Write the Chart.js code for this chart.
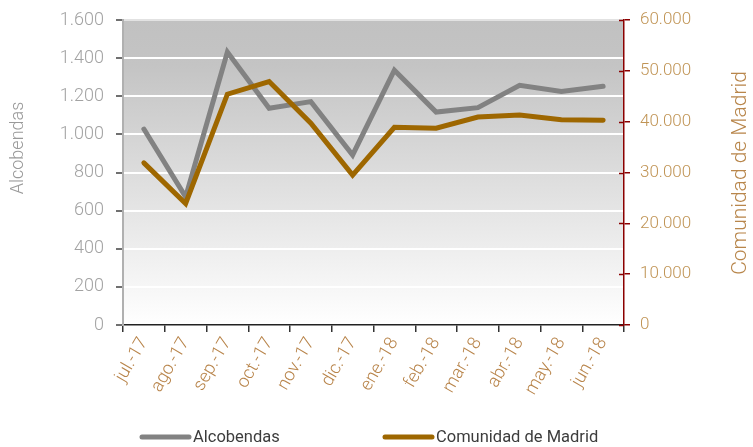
<!DOCTYPE html>
<html>
<head>
<meta charset="utf-8">
<script src="https://cdn.jsdelivr.net/npm/chart.js@4.4.1/dist/chart.umd.min.js"></script>
<style>
    html, body { margin: 0; padding: 0; background: #ffffff; }
    #wrap { width: 753px; height: 447px; position: relative; }
</style>
</head>
<body>
<div id="wrap"><canvas id="chart"></canvas></div>
<script>
// data
var months = ['jul.-17', 'ago.-17', 'sep.-17', 'oct.-17', 'nov.-17', 'dic.-17',
    'ene.-18', 'feb.-18', 'mar.-18', 'abr.-18', 'may.-18', 'jun.-18']
var alcobendas = [1028, 672, 1432, 1137, 1172, 892, 1337, 1117, 1140, 1257, 1225, 1252]
var madrid = [31900, 23900, 45400, 47900, 39700, 29500, 38900, 38700, 40900, 41300, 40400, 40300]

var leftTicks = [0, 200, 400, 600, 800, 1000, 1200, 1400, 1600]
var rightTicks = [0, 10000, 20000, 30000, 40000, 50000, 60000]

var grayLine = '#828282'
var brownLine = '#9e6700'
var font = 'Roboto'

// 1600 -> "1.600"
function fmt(v) {
    return String(v).replace(/\B(?=(\d{3})+(?!\d))/g, '.')
}

//background gradient, axis titles, inner ticks of right axis and legend
var decorPlugin = {
    id: 'decor',
    beforeDraw(chart) {
        var ctx = chart.ctx
        var a = chart.chartArea
        var g = ctx.createLinearGradient(0, a.top, 0, a.bottom)
        g.addColorStop(0, '#c1c1c1')
        g.addColorStop(0.15, '#c4c4c4')
        g.addColorStop(1, '#ffffff')
        ctx.save()
        ctx.fillStyle = g
        ctx.fillRect(a.left, a.top, a.right - a.left, a.bottom - a.top)
        ctx.restore()
    },
    afterDraw(chart) {
        var ctx = chart.ctx
        var a = chart.chartArea
        var yR = chart.scales.yR

        ctx.save()
        // right axis ticks also go into the plot
        ctx.strokeStyle = '#8b0000'
        ctx.lineWidth = 1.5
        rightTicks.forEach(t => {
            var py = Math.round(yR.getPixelForValue(t)) + 0.5
            ctx.beginPath()
            ctx.moveTo(a.right - 5, py)
            ctx.lineTo(a.right, py)
            ctx.stroke()
        })

        // axis titles
        ctx.textAlign = 'center'
        ctx.textBaseline = 'middle'
        ctx.font = '300 18px ' + font
        ctx.fillStyle = '#9a9a9a'
        ctx.translate(18, 148)
        ctx.rotate(-Math.PI / 2)
        ctx.fillText('Alcobendas', 0, 0)
        ctx.restore()

        ctx.save()
        ctx.textAlign = 'center'
        ctx.textBaseline = 'middle'
        ctx.font = '300 21px ' + font
        ctx.fillStyle = '#b8864b'
        ctx.translate(741, 173)
        ctx.rotate(-Math.PI / 2)
        ctx.fillText('Comunidad de Madrid', 0, 0)
        ctx.restore()

        // legend
        var items = [
            { text: 'Alcobendas', color: grayLine, x: 142 },
            { text: 'Comunidad de Madrid', color: brownLine, x: 385 }
        ]
        ctx.save()
        ctx.lineCap = 'round'
        ctx.lineWidth = 5
        ctx.font = '16.5px ' + font
        ctx.textBaseline = 'middle'
        ctx.fillStyle = '#3c3c3c'
        items.forEach(it => {
            ctx.strokeStyle = it.color
            ctx.beginPath()
            ctx.moveTo(it.x, 437)
            ctx.lineTo(it.x + 47, 437)
            ctx.stroke()
            ctx.fillText(it.text, it.x + 51, 438)
        })
        ctx.restore()
    }
}

var ctx = document.getElementById('chart').getContext('2d')

let lineChart = new Chart(ctx, {
    type: 'line',
    data: {
        labels: months,
        datasets: [{
            label: 'Alcobendas',
            data: alcobendas,
            yAxisID: 'y',
            borderColor: grayLine,
            borderWidth: 5,
            borderCapStyle: 'round',
            pointRadius: 0,
            tension: 0,
            order: 2
        }, {
            label: 'Comunidad de Madrid',
            data: madrid,
            yAxisID: 'yR',
            borderColor: brownLine,
            borderWidth: 5,
            borderCapStyle: 'round',
            pointRadius: 0,
            tension: 0,
            order: 1
        }]
    },
    options: {
        responsive: true,
        maintainAspectRatio: false,
        animation: false,
        layout: {
            padding: { top: 20, left: 0, right: 0, bottom: 0 }
        },
        plugins: {
            legend: { display: false },
            tooltip: { enabled: false }
        },
        scales: {
            x: {
                offset: true,
                grid: {
                    offset: true,
                    drawOnChartArea: false,
                    tickLength: 7,
                    tickColor: '#333333',
                    lineWidth: 1.5
                },
                border: { color: '#222222', width: 1.5 },
                ticks: {
                    minRotation: 60,
                    maxRotation: 60,
                    color: '#b8844a',
                    padding: 2,
                    font: { family: font, size: 18, weight: 300 }
                },
                afterFit: scale => { scale.height = 122 }
            },
            y: {
                position: 'left',
                min: 0,
                max: 1600,
                afterBuildTicks: scale => {
                    scale.ticks = leftTicks.map(v => ({ value: v }))
                },
                grid: {
                    color: ctx => ctx.tick.value === 0 ? 'rgba(0,0,0,0)' : (ctx.tick.value === 1600 ? '#e2e2e2' : '#ffffff'),
                    lineWidth: 2,
                    tickLength: 7,
                    tickColor: '#707070'
                },
                border: { color: '#b0b0b0', width: 2 },
                ticks: {
                    color: '#a3a3a3',
                    padding: 12,
                    font: { family: font, size: 18, weight: 300 },
                    callback: v => fmt(v)
                },
                afterFit: scale => {
                    scale.width = 123
                    scale.paddingTop = 0
                }
            },
            yR: {
                position: 'right',
                min: 0,
                max: 60000,
                afterBuildTicks: scale => {
                    scale.ticks = rightTicks.map(v => ({ value: v }))
                },
                grid: {
                    drawOnChartArea: false,
                    tickLength: 6,
                    tickColor: '#8b0000',
                    lineWidth: 1.5
                },
                border: { color: '#8b0000', width: 1.5 },
                ticks: {
                    color: '#c09455',
                    padding: 10,
                    font: { family: font, size: 17, weight: 300 },
                    callback: v => fmt(v)
                },
                afterFit: scale => {
                    scale.width = 129
                    scale.paddingTop = 0
                }
            }
        }
    },
    plugins: [decorPlugin]
})
</script>
</body>
</html>
